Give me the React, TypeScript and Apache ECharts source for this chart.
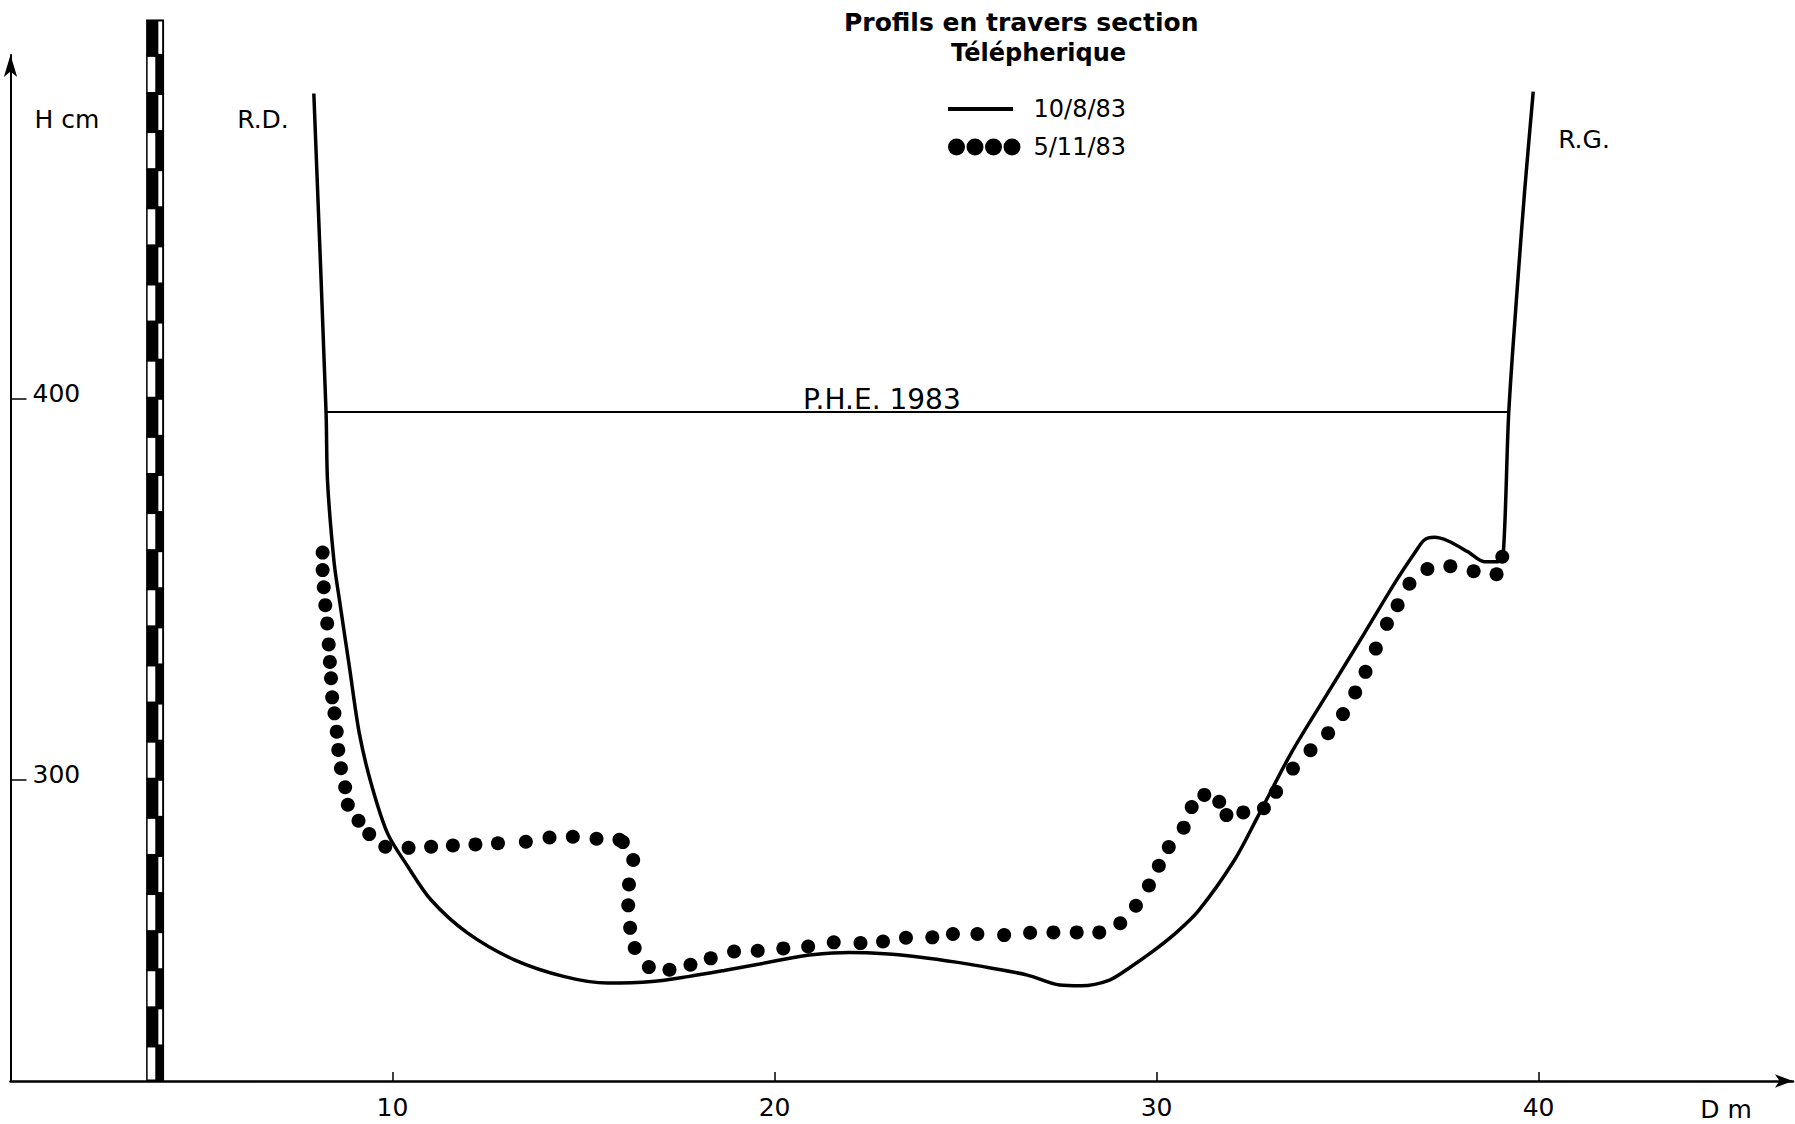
import React, { useEffect, useRef } from "react";
import * as echarts from "echarts";

// ---- data (D in metres, H in cm) ----
const xTickValues = [10, 20, 30, 40];
const yTickValues = [300, 400];

// Profile of 10/8/83 (solid line)
const profileAugust: [number, number][] = [
  [7.94, 480.0], [8.26, 396.4], [8.3, 378.0], [8.47, 357.0], [8.61, 347.1],
  [8.87, 329.6], [9.13, 312.1], [9.44, 298.9], [9.87, 285.8], [10.4, 277.1],
  [11.01, 268.3], [11.97, 259.6], [13.19, 252.6], [14.5, 248.2], [15.63, 246.5],
  [16.8, 246.9], [17.74, 248.2], [18.68, 249.8], [19.61, 251.5], [20.54, 253.3],
  [20.92, 253.9], [21.95, 254.5], [22.88, 254.2], [23.82, 253.3], [24.75, 252.0],
  [25.69, 250.4], [26.62, 248.6], [27.46, 246.0], [28.02, 245.8], [28.77, 247.3],
  [29.33, 250.8], [29.9, 254.8], [30.5, 259.6], [31.1, 265.5], [32.04, 278.8],
  [32.65, 290.2], [33.52, 306.8], [34.48, 322.6], [35.44, 338.3], [36.23, 351.4],
  [36.75, 359.3], [37.01, 362.8], [37.27, 363.5], [37.62, 362.6], [38.15, 359.7],
  [38.58, 357.1], [38.93, 357.1], [39.07, 358.3], [39.22, 396.4], [39.45, 430.0],
  [39.64, 455.0], [39.86, 480.5],
];

// Profile of 5/11/83 (dots)
const profileNovember: [number, number][] = [
  [8.17, 359.5], [8.17, 354.9], [8.2, 350.4], [8.24, 345.7], [8.29, 340.9],
  [8.33, 335.4], [8.36, 330.8], [8.39, 326.5], [8.42, 321.5], [8.48, 317.3],
  [8.54, 312.5], [8.58, 307.7], [8.65, 302.9], [8.76, 297.9], [8.83, 293.3],
  [9.11, 289.1], [9.39, 285.6], [9.81, 282.3], [10.42, 282.0], [11.01, 282.3],
  [11.58, 282.6], [12.17, 282.9], [12.76, 283.2], [13.49, 283.6], [14.11, 284.7],
  [14.72, 284.9], [15.34, 284.4], [15.94, 284.1], [16.03, 283.5], [16.3, 278.8],
  [16.19, 272.4], [16.17, 266.9], [16.22, 261.0], [16.34, 255.7], [16.71, 250.7],
  [17.25, 250.0], [17.8, 251.3], [18.33, 253.0], [18.94, 254.8], [19.56, 255.0],
  [20.23, 255.6], [20.88, 256.1], [21.55, 257.2], [22.25, 257.0], [22.84, 257.4],
  [23.44, 258.4], [24.13, 258.5], [24.67, 259.4], [25.31, 259.4], [26.01, 259.1],
  [26.69, 259.7], [27.3, 259.8], [27.91, 259.8], [28.5, 259.8], [29.05, 262.2],
  [29.46, 266.8], [29.8, 272.1], [30.06, 277.3], [30.32, 282.2], [30.71, 287.3],
  [30.92, 292.7], [31.25, 295.9], [31.64, 294.1], [31.83, 290.6], [32.27, 291.3],
  [32.81, 292.4], [33.13, 296.7], [33.57, 302.8], [34.03, 307.6], [34.49, 312.1],
  [34.88, 317.1], [35.2, 322.8], [35.47, 328.2], [35.74, 334.3], [36.03, 340.8],
  [36.31, 345.7], [36.62, 351.3], [37.09, 355.2], [37.69, 355.9], [38.3, 354.6],
  [38.9, 353.8], [39.05, 358.4],
];

// P.H.E. 1983 (highest water level)
const pheLevel = 396.4;
const pheStart = 8.26;
const pheEnd = 39.22;
const pheLabelAt = 22.81;

// Staff gauge decimetre blocks (lower bound of each 10 cm block)
const gaugeDecimetres = [
  220, 230, 240, 250, 260, 270, 280, 290, 300, 310, 320, 330, 340, 350,
  360, 370, 380, 390, 400, 410, 420, 430, 440, 450, 460, 470, 480, 490,
];
const gaugeBottom = 220.8;
const gaugeTop = 499.3;
const gaugeX = [3.55, 4.02];
const gaugeLeftWhite = [3.59, 3.79];
const gaugeRightWhite = [3.87, 3.97];

const FONT = '"DejaVu Sans", sans-serif';

export default function App() {
  const ref = useRef<HTMLDivElement>(null);

  useEffect(() => {
    if (!ref.current) return;
    const chart = echarts.init(ref.current, undefined, { renderer: "svg" });

    const gaugeData = gaugeDecimetres.map((h) => [
      gaugeX[0],
      gaugeX[1],
      h,
      h + 10,
      (h / 10) % 2,
    ]);

    const dotIcon =
      "path://M8.5,0A8.5,8.5 0 1 1 8.5,17A8.5,8.5 0 1 1 8.5,0Z" +
      "M27,0A8.5,8.5 0 1 1 27,17A8.5,8.5 0 1 1 27,0Z" +
      "M45.5,0A8.5,8.5 0 1 1 45.5,17A8.5,8.5 0 1 1 45.5,0Z" +
      "M64,0A8.5,8.5 0 1 1 64,17A8.5,8.5 0 1 1 64,0Z";
    const lineIcon = "path://M0,0H65V4H0Z M72.5,0";

    const option: any = {
      animation: false,
      backgroundColor: "#ffffff",
      textStyle: { fontFamily: FONT, color: "#000" },
      title: [
        {
          text: "Profils en travers section",
          left: 844,
          top: 10,
          padding: 0,
          textStyle: { fontSize: 25, fontWeight: "bold", fontFamily: FONT, color: "#000" },
        },
        {
          text: "Télépherique",
          left: 951,
          top: 41,
          padding: 0,
          textStyle: { fontSize: 24, fontWeight: "bold", fontFamily: FONT, color: "#000" },
        },
      ],
      legend: {
        orient: "vertical",
        left: 948,
        top: 96,
        padding: 0,
        itemWidth: 72.5,
        itemHeight: 17,
        itemGap: 12,
        selectedMode: false,
        symbolKeepAspect: true,
        textStyle: {
          fontSize: 24,
          lineHeight: 26,
          fontFamily: FONT,
          color: "#000",
          padding: [0, 0, 0, 8],
        },
        data: [
          { name: "10/8/83", icon: lineIcon },
          { name: "5/11/83", icon: dotIcon },
        ],
      },
      grid: { left: 10.5, top: 55, width: 1782.5, height: 1026 },
      xAxis: {
        type: "value",
        min: 0,
        max: 46.66,
        splitLine: { show: false },
        axisLine: {
          show: true,
          symbol: ["none", "arrow"],
          symbolSize: [10, 18],
          lineStyle: { color: "#000", width: 2.5 },
        },
        axisTick: {
          show: true,
          inside: true,
          length: 9,
          customValues: xTickValues,
          lineStyle: { color: "#000", width: 1.5 },
        },
        axisLabel: {
          show: true,
          customValues: xTickValues,
          margin: 14,
          fontSize: 25,
          fontFamily: FONT,
          color: "#000",
        },
      },
      yAxis: {
        type: "value",
        min: 220.8,
        max: 490.1,
        splitLine: { show: false },
        axisLine: {
          show: true,
          symbol: ["none", "arrow"],
          symbolSize: [10, 22],
          lineStyle: { color: "#000", width: 2 },
        },
        axisTick: {
          show: true,
          inside: true,
          length: 16,
          customValues: yTickValues,
          lineStyle: { color: "#000", width: 1.5 },
        },
        axisLabel: {
          show: true,
          inside: true,
          customValues: yTickValues,
          margin: 22,
          fontSize: 25,
          fontFamily: FONT,
          color: "#000",
          verticalAlign: "bottom",
          lineHeight: 10,
        },
      },
      graphic: [
        {
          type: "text",
          x: 67,
          y: 119,
          style: { text: "H cm", font: `25px ${FONT}`, fill: "#000", textAlign: "center", textVerticalAlign: "middle" },
        },
        {
          type: "text",
          x: 263,
          y: 119,
          style: { text: "R.D.", font: `25px ${FONT}`, fill: "#000", textAlign: "center", textVerticalAlign: "middle" },
        },
        {
          type: "text",
          x: 1584,
          y: 139,
          style: { text: "R.G.", font: `25px ${FONT}`, fill: "#000", textAlign: "center", textVerticalAlign: "middle" },
        },
        {
          type: "text",
          x: 1726,
          y: 1109,
          style: { text: "D m", font: `25px ${FONT}`, fill: "#000", textAlign: "center", textVerticalAlign: "middle" },
        },
      ],
      series: [
        {
          name: "gauge",
          type: "custom",
          clip: false,
          silent: true,
          encode: { x: [0, 1], y: [2, 3] },
          data: gaugeData,
          renderItem: (_params: any, api: any) => {
            const lo = Math.max(api.value(2), gaugeBottom);
            const hi = Math.min(api.value(3), gaugeTop);
            const side = api.value(4);
            const p0 = api.coord([gaugeX[0], hi]);
            const p1 = api.coord([gaugeX[1], lo]);
            const w = side === 0 ? gaugeLeftWhite : gaugeRightWhite;
            const q0 = api.coord([w[0], hi]);
            const q1 = api.coord([w[1], lo]);
            return {
              type: "group",
              children: [
                {
                  type: "rect",
                  shape: { x: p0[0], y: p0[1] - 0.5, width: p1[0] - p0[0], height: p1[1] - p0[1] + 1 },
                  style: { fill: "#000" },
                },
                {
                  type: "rect",
                  shape: { x: q0[0], y: q0[1] + 1.5, width: q1[0] - q0[0], height: Math.max(0, q1[1] - q0[1] - 3) },
                  style: { fill: "#fff" },
                },
              ],
            };
          },
          z: 1,
        },
        {
          name: "P.H.E.",
          type: "line",
          silent: true,
          symbol: "circle",
          symbolSize: 0,
          showSymbol: true,
          lineStyle: { color: "#000", width: 1.8 },
          itemStyle: { color: "#000" },
          label: { show: false },
          data: [
            [pheStart, pheLevel],
            {
              value: [pheLabelAt, pheLevel],
              label: {
                show: true,
                position: "top",
                distance: -2,
                formatter: "P.H.E. 1983",
                fontSize: 28,
                fontFamily: FONT,
                color: "#000",
              },
            },
            [pheEnd, pheLevel],
          ],
          z: 2,
        },
        {
          name: "10/8/83",
          type: "line",
          showSymbol: false,
          smooth: 0.3,
          color: "#000",
          itemStyle: { color: "#000", opacity: 1 },
          lineStyle: { color: "#000", width: 3.5 },
          data: profileAugust,
          z: 3,
        },
        {
          name: "5/11/83",
          type: "scatter",
          symbol: "circle",
          symbolSize: 14,
          itemStyle: { color: "#000", opacity: 1 },
          data: profileNovember,
          z: 4,
        },
      ],
    };

    chart.setOption(option);
    return () => chart.dispose();
  }, []);

  return (
    <div
      ref={ref}
      style={{ position: "absolute", left: 0, top: 0, width: 1795, height: 1124, background: "#fff" }}
    />
  );
}
